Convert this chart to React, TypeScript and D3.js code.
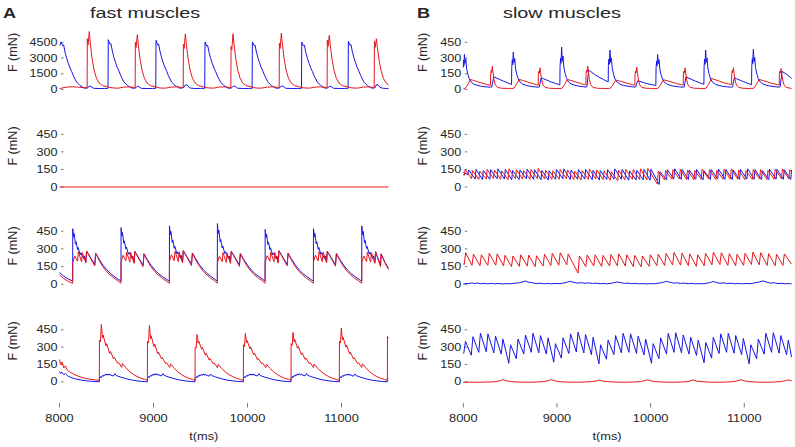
import * as d3 from "d3";

type Pt = [number, number];

// ---- axes ----
const tDomain: [number, number] = [8000, 11500];
const tTicks = [8000, 9000, 10000, 11000];
const forceTicks = [0, 150, 300, 450];
const fastTopTicks = [0, 1500, 3000, 4500];
const rowLabels = ["F (mN)", "F (mN)", "F (mN)", "F (mN)"];

const BLUE = "#1616e6";
const RED = "#e6161c";

// ---- A1: fast muscles, row 1 (0..4500 mN) ----
const a1Blue: Pt[] = [
  [8003, 4200], [8016, 4530], [8034, 4180], [8044, 4260], [8059, 3560], [8076, 2980], [8094, 2480], [8112, 2060], [8130, 1700], [8147, 1320], [8165, 980], [8183, 700], [8218, 380], [8254, 170], [8280, 110], [8300, 150], [8315, 330], [8335, 290], [8360, 120], [8420, 90], [8480, 100], [8516, 110],
  [8519, 4750], [8537, 4320], [8547, 4380], [8562, 3680], [8579, 3050], [8597, 2560], [8615, 2100], [8633, 1760], [8650, 1350], [8668, 1020], [8686, 720], [8721, 400], [8757, 180], [8790, 110], [8812, 160], [8825, 300], [8845, 260], [8870, 110], [8930, 90], [8990, 100], [9024, 110],
  [9027, 4690], [9045, 4250], [9055, 4320], [9070, 3620], [9087, 3000], [9105, 2520], [9123, 2080], [9141, 1720], [9158, 1330], [9176, 1000], [9194, 700], [9229, 390], [9265, 170], [9300, 120], [9322, 200], [9340, 450], [9360, 420], [9385, 150], [9440, 90], [9500, 100], [9545, 110],
  [9548, 4530], [9566, 4150], [9576, 4200], [9591, 3550], [9608, 2960], [9626, 2470], [9644, 2040], [9662, 1700], [9679, 1300], [9697, 990], [9715, 690], [9750, 370], [9786, 160], [9815, 110], [9835, 180], [9850, 330], [9870, 300], [9895, 120], [9960, 90], [10020, 100], [10049, 110],
  [10052, 4530], [10070, 4180], [10080, 4240], [10095, 3580], [10112, 2980], [10130, 2500], [10148, 2050], [10166, 1710], [10183, 1310], [10201, 1000], [10219, 700], [10254, 380], [10290, 170], [10320, 110], [10345, 170], [10360, 340], [10380, 310], [10405, 120], [10470, 90], [10540, 100], [10574, 110],
  [10577, 4530], [10595, 4160], [10605, 4230], [10620, 3560], [10637, 2970], [10655, 2490], [10673, 2050], [10691, 1710], [10708, 1310], [10726, 1000], [10744, 700], [10779, 380], [10815, 170], [10840, 110], [10858, 170], [10872, 320], [10892, 280], [10915, 120], [10980, 90], [11040, 100], [11070, 110],
  [11073, 4590], [11091, 4200], [11101, 4270], [11116, 3600], [11133, 3000], [11151, 2510], [11169, 2060], [11187, 1720], [11204, 1320], [11222, 1000], [11240, 700], [11275, 380], [11311, 170], [11340, 120], [11360, 200], [11372, 480], [11390, 430], [11410, 200], [11440, 120], [11480, 90], [11500, 90],
];

const a1Red: Pt[] = [
  [8000, 80], [8030, 150], [8080, 230], [8140, 260], [8200, 220], [8250, 180], [8294, 170],
  [8296, 4840], [8304, 4250], [8317, 5530], [8328, 4380], [8346, 2970], [8367, 1880], [8392, 1090], [8420, 630], [8456, 380], [8509, 250], [8560, 160], [8620, 120], [8680, 220], [8740, 250], [8790, 200], [8805, 190],
  [8807, 4500], [8815, 4000], [8828, 5220], [8839, 4200], [8857, 2900], [8878, 1850], [8903, 1070], [8931, 620], [8967, 370], [9020, 250], [9070, 140], [9130, 130], [9190, 230], [9250, 260], [9300, 200], [9316, 190],
  [9318, 4300], [9326, 3900], [9339, 5310], [9350, 4300], [9368, 2950], [9389, 1870], [9414, 1080], [9442, 620], [9478, 380], [9531, 250], [9580, 150], [9640, 130], [9700, 240], [9760, 250], [9810, 190], [9823, 180],
  [9825, 4100], [9833, 3800], [9846, 5310], [9857, 4300], [9875, 2950], [9896, 1870], [9921, 1080], [9949, 620], [9985, 380], [10038, 250], [10090, 140], [10150, 130], [10210, 230], [10270, 260], [10320, 200], [10337, 190],
  [10339, 4400], [10347, 3900], [10360, 5370], [10371, 4350], [10389, 2960], [10410, 1880], [10435, 1090], [10463, 630], [10499, 380], [10552, 250], [10600, 150], [10660, 130], [10720, 230], [10780, 250], [10830, 200], [10847, 190],
  [10849, 4700], [10857, 4100], [10870, 5160], [10881, 4200], [10899, 2900], [10920, 1850], [10945, 1070], [10973, 620], [11009, 370], [11062, 250], [11110, 150], [11170, 130], [11230, 230], [11290, 250], [11335, 200], [11348, 190],
  [11350, 4600], [11358, 4000], [11371, 4840], [11382, 4000], [11400, 2800], [11421, 1800], [11446, 1050], [11474, 620], [11500, 420],
];

// ---- A2: no force in either muscle (red drawn over blue) ----
const a2Red: Pt[] = [[8000, 0], [11500, 0]];

// ---- A3: bursts, offsets in ms from each onset ----
const a3Onsets = [8140, 8654, 9169, 9679, 10187, 10701, 11215];
const a3RedLead: Pt[] = [[8000, 80], [8040, 52], [8090, 26], [8139, 8]];
const a3BlueLead: Pt[] = [[8000, 100], [8040, 72], [8090, 46], [8139, 28]];
const a3RedBursts: Pt[][] = [
  [[0, 8], [1, 185], [22, 240], [52, 195], [60, 276], [95, 190], [103, 268], [140, 180], [148, 282], [235, 155], [245, 262], [280, 205], [320, 150], [360, 110], [400, 78], [440, 52], [480, 30], [512, 10]],
  [[0, 10], [1, 190], [22, 245], [52, 198], [60, 272], [95, 188], [103, 270], [140, 178], [148, 278], [235, 150], [245, 258], [280, 200], [320, 148], [360, 108], [400, 76], [440, 50], [480, 29], [513, 9]],
  [[0, 9], [1, 195], [22, 250], [52, 200], [60, 280], [95, 192], [103, 275], [140, 182], [148, 285], [235, 158], [245, 265], [280, 206], [320, 152], [360, 110], [400, 78], [440, 52], [480, 30], [508, 10]],
  [[0, 10], [1, 180], [22, 238], [52, 192], [60, 270], [95, 186], [103, 265], [140, 176], [148, 280], [235, 152], [245, 260], [280, 203], [320, 150], [360, 108], [400, 77], [440, 51], [480, 30], [506, 10]],
  [[0, 10], [1, 188], [22, 242], [52, 196], [60, 274], [95, 190], [103, 270], [140, 180], [148, 284], [235, 156], [245, 264], [280, 206], [320, 151], [360, 110], [400, 78], [440, 52], [480, 30], [512, 10]],
  [[0, 10], [1, 192], [22, 246], [52, 198], [60, 278], [95, 192], [103, 272], [140, 182], [148, 280], [235, 154], [245, 260], [280, 204], [320, 150], [360, 109], [400, 77], [440, 51], [480, 30], [512, 10]],
  [[0, 10], [1, 186], [22, 240], [52, 194], [60, 272], [95, 188], [103, 268], [140, 178], [148, 276], [200, 150], [206, 258], [245, 185], [285, 125]],
];
const a3BlueBursts: Pt[][] = [
  [[0, 28], [1, 471], [10, 400], [16, 430], [30, 340], [36, 362], [52, 295], [58, 312], [80, 250], [88, 268], [118, 215], [126, 240], [140, 188], [148, 282], [235, 168], [245, 262], [280, 215], [320, 165], [360, 125], [400, 93], [440, 68], [480, 45], [512, 28]],
  [[0, 26], [1, 480], [10, 410], [16, 438], [30, 348], [36, 368], [52, 300], [58, 316], [80, 255], [88, 270], [118, 218], [126, 240], [140, 186], [148, 278], [235, 163], [245, 258], [280, 210], [320, 162], [360, 122], [400, 90], [440, 66], [480, 44], [513, 27]],
  [[0, 27], [1, 495], [10, 420], [16, 450], [30, 355], [36, 375], [52, 305], [58, 322], [80, 258], [88, 275], [118, 220], [126, 245], [140, 190], [148, 285], [235, 170], [245, 265], [280, 216], [320, 166], [360, 126], [400, 93], [440, 68], [480, 45], [508, 28]],
  [[0, 28], [1, 515], [10, 430], [16, 460], [30, 360], [36, 380], [52, 308], [58, 325], [80, 260], [88, 276], [118, 218], [126, 240], [140, 185], [148, 280], [235, 165], [245, 260], [280, 212], [320, 163], [360, 123], [400, 91], [440, 67], [480, 45], [506, 28]],
  [[0, 28], [1, 465], [10, 395], [16, 425], [30, 338], [36, 358], [52, 292], [58, 310], [80, 250], [88, 266], [118, 216], [126, 240], [140, 188], [148, 284], [235, 168], [245, 264], [280, 215], [320, 165], [360, 125], [400, 93], [440, 68], [480, 45], [512, 28]],
  [[0, 28], [1, 471], [10, 402], [16, 432], [30, 342], [36, 362], [52, 296], [58, 312], [80, 252], [88, 268], [118, 217], [126, 242], [140, 190], [148, 280], [235, 166], [245, 260], [280, 213], [320, 164], [360, 124], [400, 92], [440, 67], [480, 45], [512, 28]],
  [[0, 28], [1, 495], [10, 420], [16, 448], [30, 352], [36, 372], [52, 304], [58, 320], [80, 256], [88, 272], [118, 218], [126, 240], [140, 186], [148, 276], [200, 160], [206, 258], [245, 190], [285, 135]],
];

// ---- A4 ----
const a4Onsets = [8424, 8935, 9442, 9956, 10463, 10977, 11488];
const a4RedLead: Pt[] = [[8000, 193], [8012, 150], [8025, 172], [8045, 120], [8062, 138], [8085, 98], [8115, 82], [8150, 66], [8200, 48], [8260, 33], [8330, 22], [8423, 12]];
const a4BlueLead: Pt[] = [[8000, 90], [8012, 72], [8025, 84], [8045, 62], [8062, 72], [8085, 52], [8120, 38], [8170, 25], [8240, 14], [8320, 6], [8423, 0]];
const a4RedBursts: Pt[][] = [
  [[0, 12], [1, 360], [12, 345], [21, 496], [34, 380], [40, 405], [70, 310], [78, 330], [110, 245], [118, 262], [150, 200], [158, 212], [195, 160], [203, 168], [238, 125], [246, 158], [280, 122], [320, 90], [360, 65], [400, 46], [440, 32], [480, 21], [510, 14]],
  [[0, 14], [1, 350], [12, 338], [21, 487], [34, 372], [40, 398], [70, 305], [78, 326], [110, 242], [118, 258], [150, 198], [158, 210], [195, 158], [203, 166], [238, 124], [246, 156], [280, 121], [320, 89], [360, 64], [400, 45], [440, 31], [480, 20], [506, 13]],
  [[0, 13], [1, 300], [12, 292], [21, 409], [34, 335], [40, 352], [70, 282], [78, 298], [110, 230], [118, 246], [150, 190], [158, 202], [195, 155], [203, 163], [238, 122], [246, 150], [280, 118], [320, 87], [360, 63], [400, 45], [440, 31], [480, 20], [513, 13]],
  [[0, 13], [1, 320], [12, 305], [21, 418], [34, 340], [40, 358], [70, 286], [78, 302], [110, 233], [118, 248], [150, 192], [158, 204], [195, 156], [203, 164], [238, 123], [246, 152], [280, 119], [320, 88], [360, 64], [400, 45], [440, 31], [480, 20], [506, 13]],
  [[0, 13], [1, 330], [12, 315], [21, 427], [34, 345], [40, 365], [70, 290], [78, 306], [110, 236], [118, 250], [150, 194], [158, 206], [195, 157], [203, 165], [238, 124], [246, 154], [280, 120], [320, 89], [360, 64], [400, 45], [440, 31], [480, 20], [513, 13]],
  [[0, 13], [1, 350], [12, 335], [21, 465], [34, 362], [40, 385], [70, 300], [78, 318], [110, 240], [118, 256], [150, 197], [158, 209], [195, 158], [203, 166], [238, 124], [246, 156], [280, 121], [320, 89], [360, 64], [400, 45], [440, 31], [480, 20], [510, 13]],
  [[0, 13], [1, 392], [12, 380]],
];
const a4BlueBursts: Pt[][] = [
  [[0, 0], [1, 30], [14, 45], [20, 35], [34, 55], [40, 47], [54, 62], [60, 54], [74, 68], [80, 58], [94, 68], [100, 58], [114, 67], [120, 57], [150, 50], [165, 70], [178, 55], [220, 42], [280, 28], [340, 16], [400, 8], [460, 3], [510, 0]],
  [[0, 0], [1, 32], [14, 46], [20, 36], [34, 56], [40, 48], [54, 63], [60, 55], [74, 69], [80, 59], [94, 70], [100, 59], [114, 68], [120, 58], [150, 51], [165, 72], [178, 56], [220, 43], [280, 28], [340, 16], [400, 8], [460, 3], [506, 0]],
  [[0, 0], [1, 28], [14, 44], [20, 34], [34, 54], [40, 46], [54, 61], [60, 53], [74, 66], [80, 57], [94, 67], [100, 57], [114, 66], [120, 56], [150, 49], [165, 68], [178, 54], [220, 41], [280, 27], [340, 15], [400, 8], [460, 3], [513, 0]],
  [[0, 0], [1, 30], [14, 45], [20, 35], [34, 55], [40, 47], [54, 62], [60, 54], [74, 68], [80, 58], [94, 68], [100, 58], [114, 67], [120, 57], [150, 50], [165, 70], [178, 55], [220, 42], [280, 28], [340, 16], [400, 8], [460, 3], [506, 0]],
  [[0, 0], [1, 32], [14, 46], [20, 36], [34, 56], [40, 48], [54, 63], [60, 55], [74, 69], [80, 59], [94, 70], [100, 59], [114, 68], [120, 58], [150, 51], [165, 72], [178, 56], [220, 43], [280, 28], [340, 16], [400, 8], [460, 3], [513, 0]],
  [[0, 0], [1, 28], [14, 44], [20, 34], [34, 54], [40, 46], [54, 61], [60, 53], [74, 66], [80, 57], [94, 67], [100, 57], [114, 66], [120, 56], [150, 49], [165, 68], [178, 54], [220, 41], [280, 27], [340, 15], [400, 8], [460, 3], [510, 0]],
  [[0, 0], [1, 24], [12, 30]],
];

// ---- B1: slow muscles, alternating bursts ----
const b1Blue: Pt[] = [
  [8000, 210], [8003, 280], [8007, 230], [8012, 335], [8019, 250], [8027, 290], [8035, 200], [8050, 140], [8065, 100], [8085, 70], [8115, 50], [8155, 38], [8195, 30], [8245, 25], [8290, 22], [8305, 24], [8312, 60], [8325, 121], [8350, 111], [8390, 95], [8430, 79], [8475, 62], [8515, 48],
  [8517, 210], [8523, 285], [8527, 235], [8534, 357], [8541, 255], [8549, 295], [8557, 205], [8572, 140], [8587, 100], [8607, 70], [8637, 50], [8677, 38], [8717, 30], [8767, 25], [8800, 22], [8812, 24], [8818, 55], [8832, 112], [8855, 103], [8895, 88], [8935, 73], [8985, 58], [9031, 45],
  [9033, 220], [9039, 300], [9043, 250], [9050, 405], [9057, 270], [9065, 320], [9073, 215], [9088, 150], [9103, 105], [9123, 72], [9153, 52], [9193, 40], [9233, 32], [9283, 26], [9310, 23], [9320, 26], [9326, 80], [9340, 185], [9362, 170], [9400, 145], [9440, 122], [9495, 96], [9547, 72],
  [9549, 230], [9555, 290], [9559, 240], [9566, 376], [9573, 260], [9581, 300], [9589, 210], [9604, 145], [9619, 102], [9639, 72], [9669, 52], [9709, 40], [9749, 32], [9799, 26], [9833, 23], [9843, 26], [9849, 50], [9862, 83], [9885, 77], [9925, 66], [9965, 55], [10015, 45], [10056, 38],
  [10058, 200], [10064, 270], [10068, 225], [10075, 335], [10082, 245], [10090, 285], [10098, 195], [10113, 135], [10128, 98], [10148, 68], [10178, 50], [10218, 38], [10258, 30], [10308, 25], [10349, 22], [10359, 24], [10365, 60], [10378, 121], [10400, 111], [10440, 95], [10480, 79], [10530, 62], [10569, 50],
  [10571, 215], [10577, 290], [10581, 240], [10588, 376], [10595, 260], [10603, 300], [10611, 205], [10626, 142], [10641, 100], [10661, 70], [10691, 50], [10731, 38], [10771, 30], [10821, 25], [10865, 22], [10875, 24], [10881, 55], [10894, 112], [10916, 103], [10956, 88], [10996, 73], [11040, 58], [11078, 46],
  [11080, 215], [11086, 295], [11090, 245], [11097, 383], [11104, 265], [11112, 305], [11120, 210], [11135, 145], [11150, 102], [11170, 72], [11200, 52], [11240, 40], [11280, 32], [11330, 26], [11374, 22], [11384, 26], [11390, 80], [11404, 172], [11426, 160], [11466, 136], [11505, 105],
];

const b1Red: Pt[] = [
  [8000, 5], [8020, 10], [8045, 40], [8075, 96], [8110, 86], [8160, 72], [8210, 58], [8260, 46], [8290, 40],
  [8292, 150], [8298, 180], [8302, 160], [8310, 223], [8316, 170], [8328, 95], [8342, 45], [8365, 20], [8410, 12], [8470, 10], [8517, 10],
  [8540, 12], [8565, 45], [8597, 96], [8635, 86], [8685, 72], [8735, 58], [8780, 46], [8800, 42],
  [8801, 150], [8807, 175], [8811, 155], [8819, 207], [8825, 160], [8837, 90], [8851, 42], [8874, 20], [8920, 12], [8980, 10], [9033, 10],
  [9055, 12], [9080, 45], [9112, 96], [9150, 86], [9200, 72], [9250, 58], [9295, 46], [9309, 43],
  [9311, 155], [9317, 185], [9321, 165], [9329, 223], [9335, 170], [9347, 95], [9361, 45], [9384, 20], [9430, 12], [9490, 10], [9549, 10],
  [9570, 12], [9596, 42], [9628, 90], [9666, 81], [9716, 68], [9766, 55], [9815, 44], [9832, 42],
  [9834, 150], [9840, 178], [9844, 158], [9852, 214], [9858, 165], [9870, 92], [9884, 43], [9907, 20], [9950, 12], [10010, 10], [10058, 10],
  [10080, 12], [10105, 43], [10137, 93], [10175, 84], [10225, 70], [10275, 57], [10330, 45], [10348, 42],
  [10350, 150], [10356, 175], [10360, 155], [10368, 207], [10374, 160], [10386, 90], [10400, 42], [10423, 20], [10470, 12], [10530, 10], [10571, 10],
  [10592, 12], [10618, 48], [10650, 105], [10688, 94], [10738, 78], [10788, 63], [10845, 50], [10864, 47],
  [10866, 155], [10872, 180], [10876, 160], [10884, 207], [10890, 160], [10902, 90], [10916, 42], [10939, 20], [10985, 12], [11040, 10], [11080, 10],
  [11100, 12], [11127, 45], [11159, 96], [11197, 86], [11247, 72], [11297, 58], [11355, 45], [11373, 42],
  [11375, 150], [11381, 175], [11385, 155], [11393, 200], [11399, 155], [11411, 88], [11425, 42], [11448, 20], [11505, 10],
];

// ---- B2: interleaved sawtooth (spike times, value before spike, peak) ----
const b2RedSpikes = [8010, 8088, 8166, 8245, 8322, 8400, 8478, 8557, 8634, 8712, 8790, 8869, 8946, 9024, 9102, 9181, 9258, 9336, 9414, 9493, 9570, 9648, 9726, 9805, 9882, 9960, 10072, 10150, 10228, 10307, 10384, 10462, 10540, 10619, 10696, 10774, 10852, 10931, 11008, 11086, 11164, 11243, 11320, 11398, 11476];
const b2RedPeaks = [150, 140, 135, 150, 145, 138, 155, 148, 140, 150, 160, 142, 138, 150, 146, 135, 140, 152, 145, 138, 130, 142, 150, 148, 155, 158, 135, 140, 148, 150, 145, 140, 152, 148, 142, 150, 155, 145, 140, 150, 148, 142, 150, 155, 148];
const b2RedTroughs = [100, 70, 65, 68, 72, 66, 64, 70, 68, 66, 72, 68, 65, 66, 70, 64, 60, 66, 68, 64, 58, 55, 62, 66, 64, 60, 25, 60, 66, 68, 64, 62, 66, 70, 64, 66, 68, 65, 62, 66, 68, 64, 66, 70, 68];
const b2BlueSpikes = [8048, 8127, 8205, 8283, 8361, 8440, 8517, 8596, 8673, 8751, 8830, 8908, 8985, 9063, 9142, 9220, 9297, 9376, 9453, 9532, 9609, 9687, 9766, 9844, 9921, 9995, 10092, 10170, 10248, 10326, 10404, 10482, 10560, 10638, 10716, 10794, 10872, 10950, 11028, 11106, 11184, 11262, 11340, 11418, 11496];
const b2BluePeaks = [145, 150, 140, 148, 155, 150, 140, 145, 152, 148, 140, 138, 150, 155, 145, 148, 150, 142, 140, 148, 155, 150, 138, 142, 150, 152, 130, 148, 155, 150, 145, 150, 140, 148, 152, 150, 145, 150, 155, 148, 140, 150, 152, 148, 145];
const b2BlueTroughs = [105, 68, 64, 66, 70, 68, 62, 64, 70, 66, 62, 60, 66, 70, 64, 66, 68, 62, 60, 64, 68, 66, 58, 60, 62, 58, 22, 62, 68, 66, 64, 66, 62, 64, 68, 66, 64, 66, 68, 66, 62, 64, 68, 66, 64];

// ---- B3 ----
const b3RedSpikes = [8010, 8093, 8178, 8262, 8347, 8430, 8515, 8598, 8683, 8767, 8852, 8935, 9020, 9105, 9225, 9308, 9393, 9477, 9562, 9645, 9730, 9815, 9898, 9983, 10067, 10150, 10235, 10320, 10403, 10488, 10572, 10655, 10740, 10825, 10908, 10993, 11077, 11160, 11245, 11330, 11413];
const b3RedPeaks = [268, 255, 250, 262, 258, 245, 240, 250, 248, 242, 255, 262, 268, 258, 240, 248, 250, 245, 252, 258, 250, 245, 240, 250, 255, 262, 270, 265, 258, 250, 262, 272, 268, 260, 255, 262, 272, 268, 260, 255, 258];
const b3RedTroughs = [167, 160, 158, 160, 162, 155, 150, 152, 155, 150, 155, 160, 162, 165, 95, 150, 155, 152, 155, 158, 155, 150, 148, 152, 158, 160, 165, 162, 158, 152, 158, 165, 168, 160, 158, 160, 168, 165, 160, 158, 160];
const b3Blue: Pt[] = [
  [8000, 0], [8030, 8], [8060, 5], [8090, 12], [8120, 7], [8150, 10], [8190, 5], [8220, 8], [8260, 4], [8300, 8], [8340, 4], [8380, 7], [8420, 3], [8460, 6], [8500, 4], [8540, 8], [8600, 14], [8640, 22], [8665, 28], [8690, 20], [8740, 12], [8780, 6], [8820, 9], [8860, 4], [8900, 7], [8940, 4], [8980, 7], [9020, 5], [9060, 9], [9110, 18], [9140, 26], [9170, 18], [9220, 10], [9260, 14], [9300, 9], [9340, 12], [9380, 7], [9420, 9], [9460, 5], [9500, 7], [9540, 4], [9600, 12], [9640, 20], [9680, 14], [9720, 8], [9760, 10], [9800, 5], [9840, 8], [9880, 4], [9920, 6], [9960, 3], [10000, 6], [10040, 4], [10080, 9], [10130, 16], [10170, 25], [10210, 16], [10250, 10], [10280, 13], [10320, 7], [10360, 10], [10400, 5], [10440, 8], [10480, 4], [10520, 6], [10560, 4], [10600, 9], [10640, 16], [10670, 24], [10700, 16], [10740, 9], [10780, 12], [10820, 6], [10860, 9], [10900, 4], [10940, 7], [10980, 4], [11020, 7], [11060, 5], [11100, 10], [11160, 20], [11200, 28], [11240, 18], [11280, 10], [11320, 13], [11360, 6], [11400, 9], [11440, 4], [11470, 7], [11505, 3],
];

// ---- B4 ----
const b4BlueSpikes = [8005, 8085, 8165, 8245, 8326, 8405, 8486, 8566, 8646, 8726, 8806, 8887, 8966, 9047, 9127, 9207, 9287, 9368, 9448, 9528, 9608, 9688, 9768, 9849, 9929, 10009, 10089, 10170, 10250, 10330, 10410, 10490, 10571, 10651, 10731, 10811, 10891, 10972, 11052, 11132, 11212, 11292, 11372, 11452];
const b4BluePeaks = [350, 390, 420, 415, 395, 370, 320, 370, 405, 420, 400, 380, 330, 380, 415, 430, 410, 385, 320, 360, 400, 420, 415, 395, 370, 330, 380, 420, 425, 405, 385, 360, 340, 385, 415, 420, 400, 375, 320, 370, 420, 425, 400, 360];
const b4BlueTroughs = [247, 230, 255, 260, 250, 240, 160, 200, 240, 255, 250, 240, 170, 205, 245, 258, 250, 235, 155, 195, 235, 250, 255, 245, 232, 160, 200, 240, 255, 250, 240, 228, 165, 205, 245, 255, 248, 235, 155, 200, 240, 255, 248, 235];
const b4Red: Pt[] = [
  [8000, -5], [8080, -3], [8160, -4], [8240, -2], [8330, 0], [8390, 8], [8425, 18], [8460, 8], [8540, 0], [8620, -3], [8700, -4], [8780, -2], [8860, 2], [8910, 10], [8940, 18], [8975, 8], [9050, 0], [9130, -3], [9210, -4], [9290, -2], [9370, 2], [9420, 8], [9455, 15], [9490, 6], [9570, 0], [9650, -3], [9730, -4], [9810, -2], [9890, 2], [9935, 9], [9970, 17], [10005, 7], [10080, 0], [10160, -3], [10240, -4], [10320, -2], [10400, 2], [10430, 9], [10455, 16], [10490, 6], [10570, 0], [10650, -3], [10730, -4], [10810, -2], [10890, 2], [10930, 9], [10965, 18], [11000, 8], [11080, 0], [11160, -3], [11240, -4], [11320, -2], [11400, 3], [11440, 10], [11470, 16], [11505, 10],
];

// ---- builders ----
function placeBursts(lead: Pt[], onsets: number[], bursts: Pt[][]): Pt[] {
  return lead.concat(bursts.flatMap((b, i) => b.map(([dt, f]) => [onsets[i] + dt, f] as Pt)));
}

function saw(lead: Pt[], spikes: number[], troughs: number[], peaks: number[], rise: number, tail: Pt[]): Pt[] {
  const pts: Pt[] = [...lead];
  spikes.forEach((t, i) => {
    pts.push([t, troughs[i]], [t + rise, peaks[i]]);
  });
  return pts.concat(tail);
}

const a3Red = placeBursts(a3RedLead, a3Onsets, a3RedBursts);
const a3Blue = placeBursts(a3BlueLead, a3Onsets, a3BlueBursts);
const a4Red = placeBursts(a4RedLead, a4Onsets, a4RedBursts);
const a4Blue = placeBursts(a4BlueLead, a4Onsets, a4BlueBursts);
const b2Red = saw([[8000, 110]], b2RedSpikes, b2RedTroughs, b2RedPeaks, 10, [[11505, 128]]);
const b2Blue = saw([[8000, 125]], b2BlueSpikes, b2BlueTroughs, b2BluePeaks, 9, []);
const b3Red = saw([[8000, 172]], b3RedSpikes, b3RedTroughs, b3RedPeaks, 15, [[11505, 170]]);
const b4Blue = saw([[8000, 250]], b4BlueSpikes, b4BlueTroughs, b4BluePeaks, 18, [[11505, 215]]);

// ---- layout ----
const W = 795;
const H = 447;
const colX: [number, number][] = [[59.5, 388.5], [463.3, 791.1]];
const rowY: [number, number][] = [[89.5, 42.3], [187, 134.3], [284.3, 231.2], [381.8, 329.8]];
const labelMidY = [52.5, 146, 246, 341];

const panels = [
  { col: 0, row: 0, ticks: fastTopTicks, blue: a1Blue, red: a1Red },
  { col: 0, row: 1, ticks: forceTicks, blue: null, red: a2Red },
  { col: 0, row: 2, ticks: forceTicks, blue: a3Blue, red: a3Red },
  { col: 0, row: 3, ticks: forceTicks, blue: a4Blue, red: a4Red },
  { col: 1, row: 0, ticks: forceTicks, blue: b1Blue, red: b1Red },
  { col: 1, row: 1, ticks: forceTicks, blue: b2Blue, red: b2Red },
  { col: 1, row: 2, ticks: forceTicks, blue: b3Blue, red: b3Red },
  { col: 1, row: 3, ticks: forceTicks, blue: b4Blue, red: b4Red },
];

const FONT = "'Liberation Sans', Arial, Helvetica, sans-serif";

const Txt = ({ x, y, size, anchor = "start", weight = "normal", sx = 1.28, rotate = 0, dy, children }: any) => (
  <text
    transform={`translate(${x},${y}) rotate(${rotate}) scale(${sx},1)`}
    fontSize={size}
    textAnchor={anchor}
    fontWeight={weight}
    dy={dy}
    fill="#262626"
    fontFamily={FONT}
  >
    {children}
  </text>
);

export default function App() {
  const xScales = colX.map((r) => d3.scaleLinear().domain(tDomain).range(r));

  return (
    <svg width={W} height={H} style={{ position: "absolute", left: 0, top: 0, background: "#fff" }}>
      {/* titles */}
      <Txt x={3} y={18} size={14.5} weight="bold" sx={1.25}>A</Txt>
      <Txt x={90} y={17.5} size={15.5}>fast muscles</Txt>
      <Txt x={417} y={18} size={14.5} weight="bold" sx={1.25}>B</Txt>
      <Txt x={503} y={17.5} size={15.5}>slow muscles</Txt>

      {panels.map((p, i) => {
        const x = xScales[p.col];
        const y = d3.scaleLinear().domain([0, p.ticks[p.ticks.length - 1]]).range(rowY[p.row]);
        const line = d3
          .line<Pt>()
          .x((d) => x(d[0]))
          .y((d) => y(d[1]));
        const x0 = colX[p.col][0];
        return (
          <g key={i}>
            {p.ticks.map((t) => (
              <g key={t}>
                <line x1={x0 + 1.5} x2={x0 + 4} y1={y(t)} y2={y(t)} stroke="#555" strokeWidth={0.8} />
                <Txt x={x0 - 2} y={y(t)} size={10.5} sx={1.2} anchor="end" dy="0.35em">
                  {t}
                </Txt>
              </g>
            ))}
            <Txt x={p.col === 0 ? 17 : 427} y={labelMidY[p.row]} size={12} sx={1.05} rotate={-90} anchor="middle">
              {rowLabels[p.row]}
            </Txt>
            {p.blue && <path d={line(p.blue) || ""} fill="none" stroke={BLUE} strokeWidth={1} strokeLinejoin="round" />}
            <path d={line(p.red) || ""} fill="none" stroke={RED} strokeWidth={1} strokeLinejoin="round" />
          </g>
        );
      })}

      {/* time axes under the last row */}
      {xScales.map((x, c) => (
        <g key={c}>
          {tTicks.map((t) => (
            <g key={t}>
              <line x1={x(t)} x2={x(t)} y1={403} y2={407.5} stroke="#555" strokeWidth={0.8} />
              <Txt x={x(t)} y={421.5} size={10.5} sx={1.22} anchor="middle">
                {t}
              </Txt>
            </g>
          ))}
          <Txt x={x(9535)} y={439.5} size={10.5} sx={1.22} anchor="middle">
            t(ms)
          </Txt>
        </g>
      ))}
    </svg>
  );
}
